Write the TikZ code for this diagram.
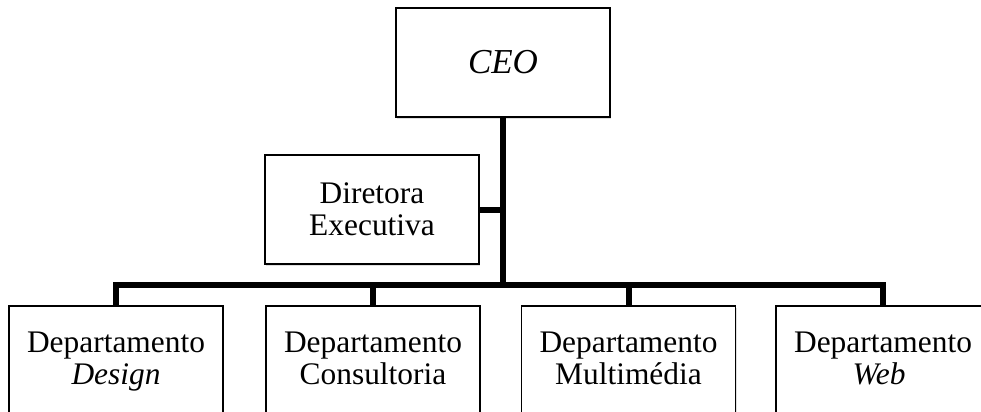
\documentclass[tikz,border=0pt]{standalone}
\usepackage{fontspec}
\setmainfont{Liberation Serif}
\usetikzlibrary{shadows}

\begin{document}
\begin{tikzpicture}[x=.5pt,y=-.5pt,
  cargo/.style={draw=black,line width=.8pt,fill=white,
    minimum width=107pt,minimum height=54.5pt,inner sep=0pt,
    align=center,font=\fontsize{15.7}{16}\selectfont,
    drop shadow={shadow xshift=.6pt,shadow yshift=-.9pt,opacity=.25}},
  depto/.style={cargo,minimum height=57.5pt,anchor=north},
  ligacao/.style={line width=3pt,line join=miter}]
 \useasboundingbox (0,0) rectangle (981,412);
 \clip (0,0) rectangle (981,412);
 \node[cargo,font=\fontsize{17.5}{18}\selectfont] (ceo) at (503,62.5) {\textit{CEO}};
 \node[cargo] (dir) at (372,209.5) {Diretora\\Executiva};
 \foreach \nome/\xp/\area in {
   design/116/\textit{Design}, consult/373/Consultoria,
   multi/628.5/Multimédia, web/883/\textit{Web}
 } {
   \node[depto] (\nome) at (\xp,305) {Departamento\\\area\strut};
 }
 \coordinate (barra) at (0,285);
 \draw[ligacao] (ceo.south) -- (ceo.south |- barra);
 \draw[ligacao] (dir.east) -- (dir.east -| ceo.south);
 \draw[ligacao] (design.north) -- (design.north |- barra)
   -- (web.north |- barra) -- (web.north);
 \foreach \nome in {consult,multi}
   \draw[ligacao] (\nome.north) -- (\nome.north |- barra);
\end{tikzpicture}
\end{document}
